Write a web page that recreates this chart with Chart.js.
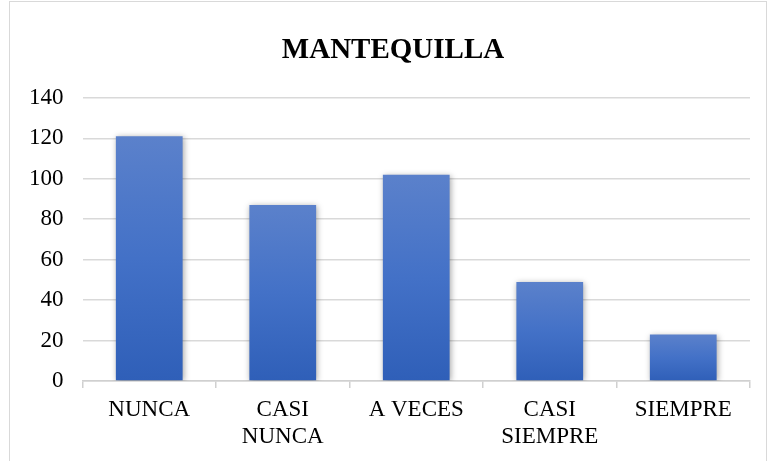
<!DOCTYPE html>
<html>
<head>
<meta charset="utf-8">
<script src="https://cdn.jsdelivr.net/npm/chart.js@4.4.1/dist/chart.umd.min.js"></script>
<style>
  html, body { margin: 0; padding: 0; background: #fff; }
  #wrap { position: relative; width: 770px; height: 461px; }
  #frame { position: absolute; left: 9px; top: 1px; width: 758px; height: 470px; border: 1px solid #d9d9d9; box-sizing: border-box; }
</style>
</head>
<body>
<div id="wrap">
  <div id="frame"></div>
  <canvas id="chart" width="770" height="461"></canvas>
</div>
<script>
const categories = [['NUNCA'], ['CASI', 'NUNCA'], ['A VECES'], ['CASI', 'SIEMPRE'], ['SIEMPRE']];
const values = [121, 87, 102, 49, 23];
const yTicks = [0, 20, 40, 60, 80, 100, 120, 140];

const serif = "'Liberation Serif', 'Times New Roman', serif";

// soft shadow behind the bars, like the office chart style
const barShadow = {
    id: 'barShadow',
    beforeDatasetDraw(chart) {
        const ctx = chart.ctx;
        ctx.save();
        ctx.shadowColor = 'rgba(0,0,0,0.35)';
        ctx.shadowBlur = 6;
        ctx.shadowOffsetX = 1;
        ctx.shadowOffsetY = 1;
    },
    afterDatasetDraw(chart) {
        chart.ctx.restore();
    }
};

// the original title sits a little right of the canvas centre
const titleShift = {
    id: 'titleShift',
    afterLayout(chart) {
        if (chart.titleBlock) chart.titleBlock.left += 26;
    }
};

const barGradient = (context) => {
    const chart = context.chart;
    const area = chart.chartArea;
    if (!area) return '#4472c4';
    const y0 = chart.scales.y.getPixelForValue(0);
    const v = values[context.dataIndex] || 0;
    const yTop = chart.scales.y.getPixelForValue(v);
    const g = chart.ctx.createLinearGradient(0, yTop, 0, y0);
    g.addColorStop(0, '#5b81cb');
    g.addColorStop(0.5, '#4371c7');
    g.addColorStop(1, '#2f5fb8');
    return g;
};

new Chart(document.getElementById('chart').getContext('2d'), {
    type: 'bar',
    data: {
        labels: categories,
        datasets: [{
            data: values,
            backgroundColor: barGradient,
            borderWidth: 0,
            categoryPercentage: 1,
            barPercentage: 0.5
        }]
    },
    options: {
        responsive: false,
        animation: false,
        layout: { padding: { left: 10, right: 20, top: 0, bottom: 2 } },
        plugins: {
            legend: { display: false },
            tooltip: { enabled: false },
            title: {
                display: true,
                text: 'MANTEQUILLA',
                color: '#000',
                font: { family: serif, size: 29, weight: 'bold' },
                padding: { top: 33, bottom: 30 }
            }
        },
        scales: {
            x: {
                grid: {
                    offset: true,
                    drawOnChartArea: false,
                    drawTicks: true,
                    tickLength: 7,
                    color: '#d0d0d0',
                    lineWidth: 1.5
                },
                border: { display: true, color: '#d0d0d0', width: 1.5 },
                ticks: {
                    color: '#000',
                    font: { family: serif, size: 23, lineHeight: 1.15 },
                    padding: 9,
                    maxRotation: 0
                }
            },
            y: {
                min: 0,
                max: 140,
                afterBuildTicks: (axis) => { axis.ticks = yTicks.map(v => ({ value: v })); },
                grid: { color: '#d9d9d9', lineWidth: 1.5, drawTicks: false },
                border: { display: false },
                ticks: {
                    color: '#000',
                    font: { family: serif, size: 23 },
                    padding: 19
                }
            }
        }
    },
    plugins: [barShadow, titleShift]
});
</script>
</body>
</html>
